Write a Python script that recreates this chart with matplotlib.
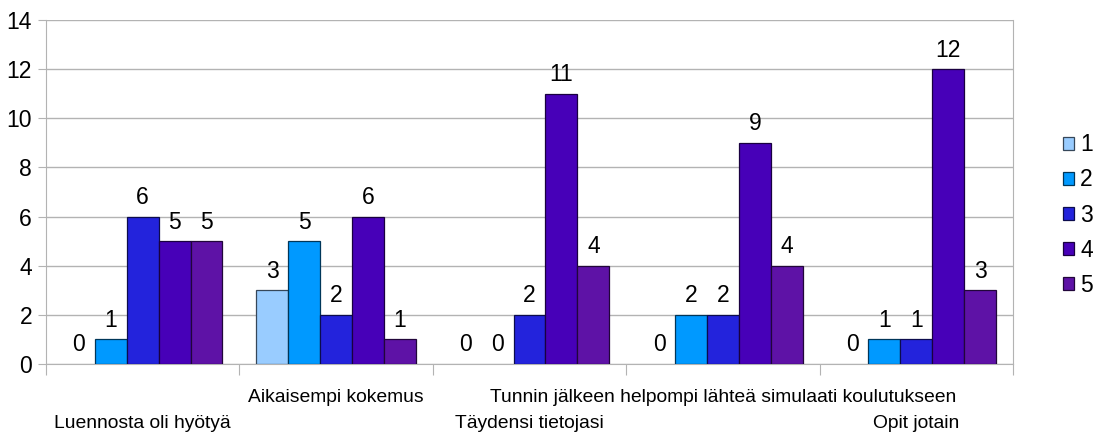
import matplotlib
matplotlib.use("Agg")
import matplotlib.pyplot as plt
import matplotlib.transforms as mtransforms
from matplotlib.colors import to_rgb
from matplotlib.patches import Patch
import numpy as np

plt.rcParams['font.family'] = ['Liberation Sans Narrow', 'Liberation Sans', 'DejaVu Sans']

categories = ["Luennosta oli hyötyä", "Aikaisempi kokemus", "Täydensi tietojasi",
              "Tunnin jälkeen helpompi lähteä simulaati koulutukseen", "Opit jotain"]
series_names = ["1", "2", "3", "4", "5"]
s1 = [0, 3, 0, 0, 0]
s2 = [1, 5, 0, 2, 1]
s3 = [6, 2, 2, 2, 1]
s4 = [5, 6, 11, 9, 12]
s5 = [5, 1, 4, 4, 3]
series = [s1, s2, s3, s4, s5]
colors = ["#99CCFF", "#0099FF", "#2323DC", "#4700B8", "#5E12A6"]
yticks = [0, 2, 4, 6, 8, 10, 12, 14]

W, H = 1103, 436
fig = plt.figure(figsize=(W / 100, H / 100), dpi=100)
ax = fig.add_axes([46 / W, 1 - 364 / H, (1013 - 46) / W, (364 - 20) / H])

n = len(series)
bw = 0.165
x = np.arange(len(categories))
fs = 16.5


def darker(c):
    return tuple(v * 0.35 for v in to_rgb(c))


for i, (vals, c) in enumerate(zip(series, colors)):
    pos = x + (i - (n - 1) / 2) * bw
    bars = ax.bar(pos, vals, width=bw, color=c, edgecolor=darker(c), linewidth=0.9,
                  label=series_names[i], zorder=3)
    for b, v in zip(bars, vals):
        if v == 0:
            b.set_linewidth(0)
    for p, v in zip(pos, vals):
        ax.annotate(str(v), (p, v), xytext=(0, 5.5), textcoords="offset points",
                    ha="center", va="bottom", fontsize=fs, color="black")

ax.set_xlim(-0.5, len(categories) - 0.5)
ax.set_ylim(0, 14)
ax.set_yticks(yticks)
ax.set_yticklabels([str(t) for t in yticks], fontsize=fs)
ax.yaxis.grid(True, color="#b3b3b3", linewidth=1.0, zorder=0)
ax.set_axisbelow(True)
ax.tick_params(axis="y", length=6, color="#b3b3b3", pad=4)

ax.set_xticks(np.arange(-0.5, len(categories)), minor=False)
ax.set_xticklabels([])
ax.tick_params(axis="x", length=8, color="#b3b3b3")

for sp in ["left", "bottom", "right"]:
    ax.spines[sp].set_color("#b3b3b3")
ax.spines["top"].set_visible(False)

trans = mtransforms.blended_transform_factory(ax.transData, fig.transFigure)
for i, cat in enumerate(categories):
    ypix = 423 if i % 2 == 0 else 397
    ax.text(i, 1 - ypix / H, cat, transform=trans, ha="center", va="center",
            fontsize=fs * 0.84, color="black")

handles = [Patch(facecolor=c, edgecolor=darker(c), linewidth=0.9) for c in colors]
leg = fig.legend(handles, series_names, loc="center left",
                 bbox_to_anchor=(1063 / W, 1 - 215 / H), frameon=False,
                 fontsize=fs, handlelength=0.5, handleheight=0.5, handletextpad=0.25,
                 labelspacing=0.53, borderpad=0, borderaxespad=0)

fig.savefig("out.png", dpi=100)
